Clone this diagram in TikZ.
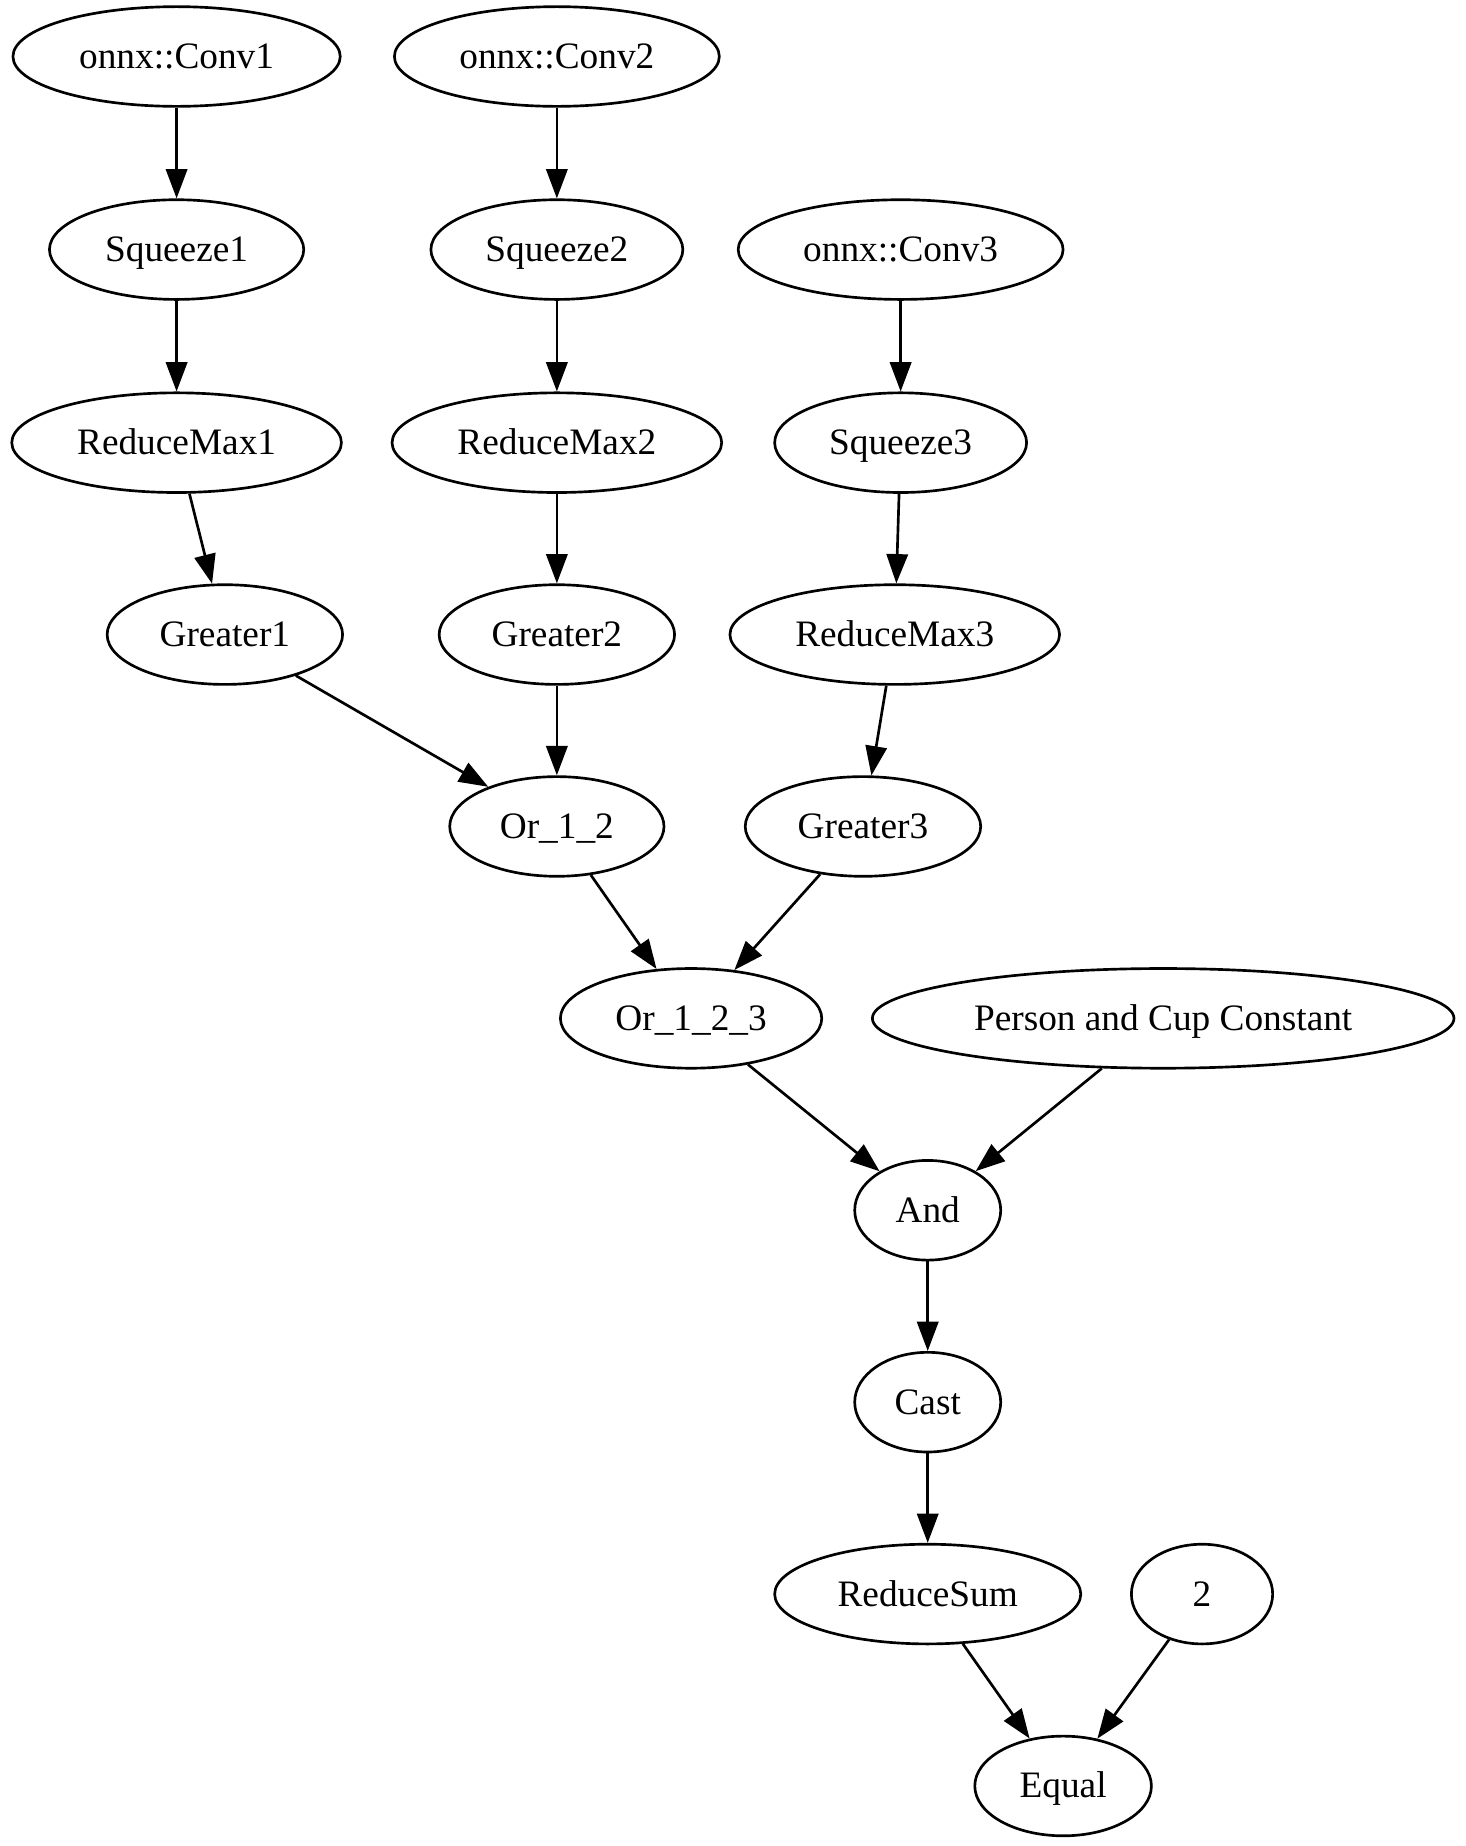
\documentclass[tikz,border=0pt]{standalone}
\usepackage{fontspec}
\setmainfont{Liberation Serif}
\usetikzlibrary{shapes.geometric,arrows.meta}
\begin{document}
\begin{tikzpicture}[x=0.4417pt,y=-0.4417pt,
  nd/.style={ellipse, draw, line width=1pt, inner sep=0pt,
    minimum height=37.4pt, minimum width={#1*0.8834pt},
    font=\fontsize{14pt}{16pt}\selectfont, text height=11pt, text depth=2pt},
  edge/.style={line width=1pt, -{Triangle[length=11pt,width=8pt]}}]
\useasboundingbox (0,0) rectangle (1245,1568);
\node[nd=139] (c1) at (150,48) {onnx::Conv1};
\node[nd=138] (c2) at (473,48) {onnx::Conv2};
\node[nd=108] (s1) at (150,212) {Squeeze1};
\node[nd=107] (s2) at (473,212) {Squeeze2};
\node[nd=138] (c3) at (765,212) {onnx::Conv3};
\node[nd=140] (r1) at (150,376) {ReduceMax1};
\node[nd=140] (r2) at (473,376) {ReduceMax2};
\node[nd=107] (s3) at (765,376) {Squeeze3};
\node[nd=100] (g1) at (191,539) {Greater1};
\node[nd=100] (g2) at (473,539) {Greater2};
\node[nd=140] (r3) at (760,539) {ReduceMax3};
\node[nd=91] (o12) at (473,702) {Or\_1\_2};
\node[nd=100] (g3) at (733,702) {Greater3};
\node[nd=111] (o123) at (587,865) {Or\_1\_2\_3};
\node[nd=247] (p) at (988,865) {Person and Cup Constant};
\node[nd=62] (and) at (788,1028) {And};
\node[nd=62] (cast) at (788,1191) {Cast};
\node[nd=130] (rs) at (788,1354) {ReduceSum};
\node[nd=60] (two) at (1021,1354) {2};
\node[nd=75] (eq) at (903,1517) {Equal};
\draw[edge] (c1) -- (s1);
\draw[edge] (s1) -- (r1);
\draw[edge] (r1) -- (g1);
\draw[edge] (c2) -- (s2);
\draw[edge] (s2) -- (r2);
\draw[edge] (r2) -- (g2);
\draw[edge] (c3) -- (s3);
\draw[edge] (s3) -- (r3);
\draw[edge] (r3) -- (g3);
\draw[edge] (g1) -- (o12);
\draw[edge] (g2) -- (o12);
\draw[edge] (o12) -- (o123);
\draw[edge] (g3) -- (o123);
\draw[edge] (o123) -- (and);
\draw[edge] (p) -- (and);
\draw[edge] (and) -- (cast);
\draw[edge] (cast) -- (rs);
\draw[edge] (rs) -- (eq);
\draw[edge] (two) -- (eq);
\end{tikzpicture}
\end{document}
